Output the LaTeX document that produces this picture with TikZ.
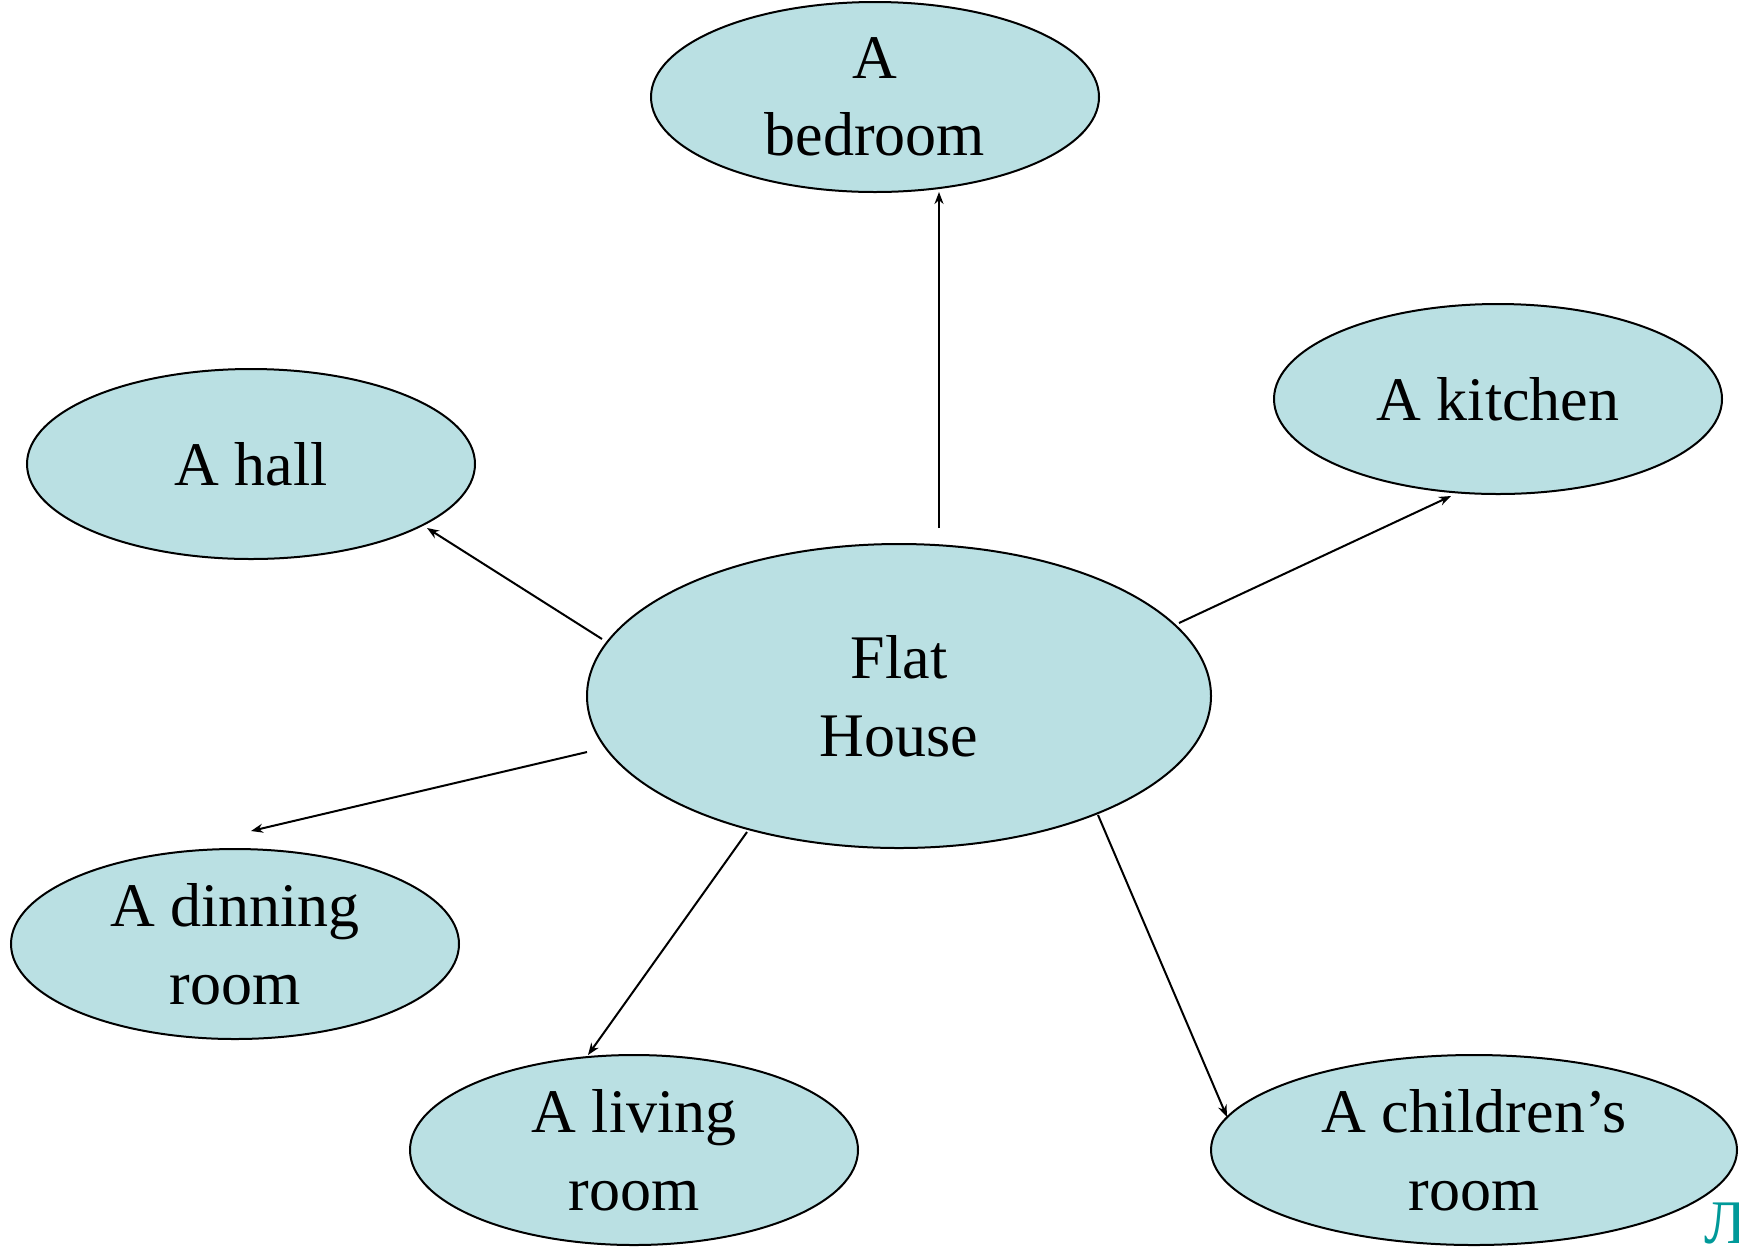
\documentclass[tikz,border=0pt]{standalone}
\usepackage{fontspec}
\setmainfont{Liberation Serif}
\usetikzlibrary{shapes.geometric,arrows.meta}
\definecolor{roomfill}{RGB}{186,224,227}
\definecolor{tealtext}{RGB}{0,153,153}
\begin{document}
\begin{tikzpicture}[x=0.5pt,y=-0.5pt,
  room/.style={ellipse,draw=black,line width=1pt,fill=roomfill,inner sep=0pt,
    minimum width=224pt,minimum height=95pt,align=center,
    font=\fontsize{31}{38.8}\selectfont},
  link/.style={line width=1pt,-{Stealth[length=6pt,width=4.5pt]}}]
\useasboundingbox (0,0) rectangle (1739,1249);
\node[room] (bed) at (875,97) {A\\bedroom};
\node[room] (kit) at (1498,399) {A kitchen};
\node[room] (hall) at (251,464) {A hall};
\node[room,minimum width=312pt,minimum height=152pt] (fh) at (899,696) {Flat\\House};
\node[room] (din) at (235,944) {A dinning\\room};
\node[room] (liv) at (634,1150) {A living\\room};
\node[room,minimum width=263pt] (chi) at (1474,1150) {A children’s\\room};
\node[anchor=base west,text=tealtext,inner sep=0pt,font=\fontsize{31}{38.8}\selectfont] (mark) at (1704,1243) {Л};
\coordinate (s1) at (939,528);  \coordinate (e1) at (939,192);
\coordinate (s2) at (1179,623); \coordinate (e2) at (1451,496);
\coordinate (s3) at (602,639);  \coordinate (e3) at (427,528);
\coordinate (s4) at (587,752);  \coordinate (e4) at (251,831);
\coordinate (s5) at (747,832);  \coordinate (e5) at (588,1055);
\coordinate (s6) at (1098,815); \coordinate (e6) at (1227,1117);
\draw[link] (s1) -- (e1);
\draw[link] (s2) -- (e2);
\draw[link] (s3) -- (e3);
\draw[link] (s4) -- (e4);
\draw[link] (s5) -- (e5);
\draw[link] (s6) -- (e6);
\end{tikzpicture}
\end{document}
